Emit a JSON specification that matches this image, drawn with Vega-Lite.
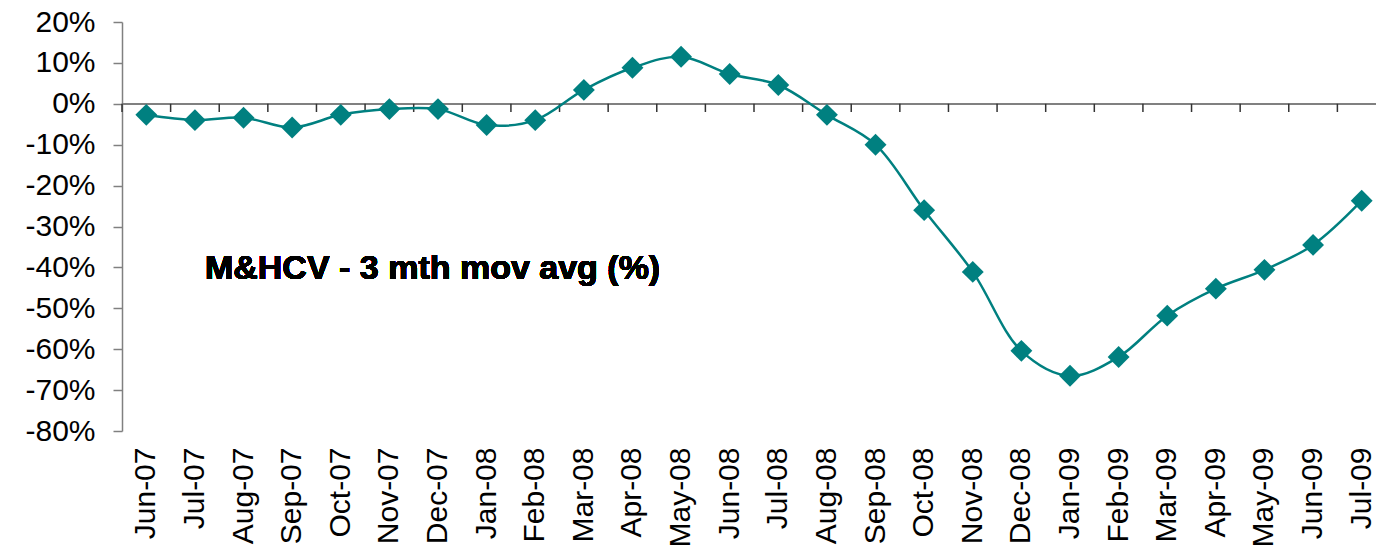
{
  "$schema": "https://vega.github.io/schema/vega-lite/v6.json",
  "autosize": "none",
  "padding": {"left": 122, "top": 22, "right": 0, "bottom": 117},
  "width": 1264,
  "height": 409,
  "background": "white",
  "config": {"view": {"stroke": null}, "font": "Liberation Sans"},
  "data": {"values": [
    {"month": "Jun-07", "value": -0.027},
    {"month": "Jul-07", "value": -0.040},
    {"month": "Aug-07", "value": -0.034},
    {"month": "Sep-07", "value": -0.058},
    {"month": "Oct-07", "value": -0.027},
    {"month": "Nov-07", "value": -0.013},
    {"month": "Dec-07", "value": -0.013},
    {"month": "Jan-08", "value": -0.052},
    {"month": "Feb-08", "value": -0.040},
    {"month": "Mar-08", "value": 0.034},
    {"month": "Apr-08", "value": 0.088},
    {"month": "May-08", "value": 0.115},
    {"month": "Jun-08", "value": 0.073},
    {"month": "Jul-08", "value": 0.046},
    {"month": "Aug-08", "value": -0.027},
    {"month": "Sep-08", "value": -0.100},
    {"month": "Oct-08", "value": -0.260},
    {"month": "Nov-08", "value": -0.411},
    {"month": "Dec-08", "value": -0.604},
    {"month": "Jan-09", "value": -0.665},
    {"month": "Feb-09", "value": -0.619},
    {"month": "Mar-09", "value": -0.518},
    {"month": "Apr-09", "value": -0.452},
    {"month": "May-09", "value": -0.406},
    {"month": "Jun-09", "value": -0.345},
    {"month": "Jul-09", "value": -0.237}
  ]},
  "layer": [
    {
      "mark": {"type": "rule", "color": "#808080", "strokeWidth": 1.5},
      "encoding": {"y": {"datum": 0, "type": "quantitative"}}
    },
    {
      "mark": {"type": "rule", "color": "#333333", "strokeWidth": 1.5},
      "encoding": {
        "x": {"field": "month", "type": "ordinal", "sort": null, "bandPosition": 0},
        "y": {"datum": 0, "type": "quantitative"},
        "y2": {"datum": -0.02}
      }
    },
    {
      "mark": {"type": "line", "color": "#008080", "strokeWidth": 2.5, "interpolate": "catmull-rom"},
      "encoding": {
        "x": {"field": "month", "type": "ordinal", "sort": null,
              "scale": {"paddingInner": 0, "paddingOuter": 0},
              "axis": {"orient": "bottom", "labelAngle": -90, "labelFontSize": 30, "labelColor": "black",
                       "labelFont": "Liberation Sans", "ticks": false, "domain": false, "title": null,
                       "labelPadding": 16, "grid": false}},
        "y": {"field": "value", "type": "quantitative",
              "scale": {"domain": [-0.8, 0.2], "nice": false, "zero": false},
              "axis": {"values": [-0.8, -0.7, -0.6, -0.5, -0.4, -0.3, -0.2, -0.1, 0, 0.1, 0.2],
                       "labelExpr": "replace(format(datum.value, '.0%'), '\u2212', '-')",
                       "title": null, "grid": false, "domainColor": "#808080", "domainWidth": 1.5,
                       "tickColor": "#808080", "tickSize": 9, "tickWidth": 1.5, "labelFontSize": 30,
                       "labelColor": "black", "labelPadding": 18, "labelFont": "Liberation Sans"}}
      }
    },
    {
      "mark": {"type": "point", "shape": "diamond", "filled": true, "color": "#008080", "size": 480, "opacity": 1},
      "encoding": {
        "x": {"field": "month", "type": "ordinal", "sort": null},
        "y": {"field": "value", "type": "quantitative"}
      }
    },
    {
      "mark": {"type": "text", "text": "M&HCV - 3 mth mov avg (%)", "align": "left", "baseline": "middle",
               "fontSize": 34, "fontWeight": "bold", "font": "Liberation Sans", "color": "black", "dx": 10},
      "encoding": {
        "x": {"datum": "Jul-07", "type": "ordinal"},
        "y": {"datum": -0.405, "type": "quantitative"}
      }
    }
  ]
}
